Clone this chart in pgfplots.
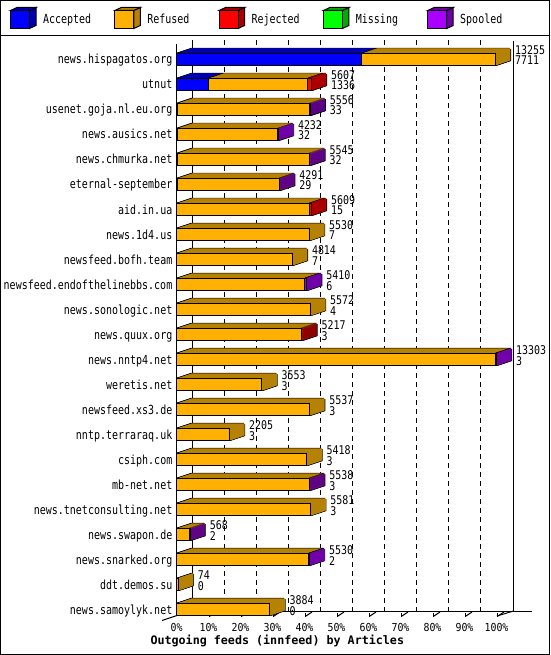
\documentclass[border=0pt]{standalone}
\usepackage{pgfplots}
\pgfplotsset{compat=1.18}
\usepackage{pgfplotstable}
\usepackage{fontspec}
\setmainfont{DejaVu Sans Mono}
\newfontfamily\monoc[FakeStretch=0.8]{DejaVu Sans Mono}
\newfontfamily\monon[FakeStretch=0.83]{DejaVu Sans Mono}
\newfontfamily\monot[FakeStretch=0.9]{DejaVu Sans Mono}
\newfontfamily\monob{DejaVu Sans Mono}
\newcommand\labf{\monoc\fontsize{12.5pt}{11pt}\selectfont}
\newcommand\numf{\monon\fontsize{12pt}{11pt}\selectfont}
\newcommand\tickf{\monot\fontsize{11pt}{12pt}\selectfont}
\newcommand\titf{\monob\bfseries\fontsize{11.7pt}{13pt}\selectfont}

\definecolor{cAcc}{RGB}{0,0,255}   \definecolor{cAccD}{RGB}{0,0,176}
\definecolor{cRef}{RGB}{255,176,0} \definecolor{cRefD}{RGB}{182,130,6}
\definecolor{cRej}{RGB}{255,0,0}   \definecolor{cRejD}{RGB}{172,0,0}
\definecolor{cMis}{RGB}{0,255,0}   \definecolor{cMisD}{RGB}{0,172,0}
\definecolor{cSpo}{RGB}{170,0,255} \definecolor{cSpoD}{RGB}{112,0,168}

\newcount\extk
\tikzset{
  extrude/.code={%
    \extk=15\relax
    \loop
      \pgfmathsetmacro\exA{\the\extk-0.7}%
      \pgfmathsetmacro\eyA{\the\extk/3+0.7}%
      \pgfmathsetmacro\exB{\the\extk+0.7}%
      \pgfmathsetmacro\eyB{\the\extk/3-0.7}%
      \edef\tmp{\noexpand\tikzset{preaction={fill=black,draw=none,transform canvas={shift={(\exA pt,\eyA pt)}}},preaction={fill=black,draw=none,transform canvas={shift={(\exB pt,\eyB pt)}}}}}%
      \tmp
      \advance\extk by -1\relax
    \ifnum\extk>0 \repeat
    \extk=30\relax
    \loop
      \pgfmathsetmacro\exC{\the\extk/2}%
      \pgfmathsetmacro\eyC{\the\extk/6}%
      \edef\tmp{\noexpand\tikzset{preaction={fill=#1,draw=none,transform canvas={shift={(\exC pt,\eyC pt)}}}}}%
      \tmp
      \advance\extk by -1\relax
    \ifnum\extk>0 \repeat
  }
}

\pgfplotstableread{
idx acc ref rej mis spo off
0 7711 5544 0 0 0 13255
1 1336 4121 150 0 0 5607
2 33 5498 0 0 25 5556
3 32 4175 0 0 25 4232
4 32 5488 0 0 25 5545
5 29 4237 0 0 25 4291
6 15 5494 100 0 0 5609
7 7 5523 0 0 0 5530
8 7 4807 0 0 0 4814
9 6 5314 0 0 90 5410
10 4 5568 0 0 0 5572
11 3 5189 25 0 0 5217
12 3 13250 0 0 50 13303
13 3 3550 0 0 0 3553
14 3 5534 0 0 0 5537
15 3 2202 0 0 0 2205
16 3 5415 0 0 0 5418
17 3 5510 0 0 25 5538
18 3 5578 0 0 0 5581
19 2 541 0 0 25 568
20 2 5493 0 0 35 5530
21 0 74 0 0 0 74
22 0 3884 0 0 0 3884
}\feeds

\pgfplotsset{
  feedaxis/.style={
    at={(176.5pt,38.5pt)}, anchor=south west,
    scale only axis, width=320pt, height=571pt,
    xmin=0, xmax=13303, ymin=-0.56, ymax=22.28, y dir=reverse,
    clip=false, scaled x ticks=false, scaled y ticks=false,
    axis line style={draw=none}, major tick length=0pt, tick style={draw=none},
  }
}

\begin{document}
\begin{tikzpicture}
\useasboundingbox (0,0) rectangle (550pt,655pt);
\begin{scope}[x=1pt,y=-1pt,yshift=655pt,line width=1pt]
  % outer frame and legend separator
  \draw (0.5,0.5) rectangle (549.5,654.5);
  \draw (0,35.5) -- (550,35.5);
  % legend
  \foreach \i/\cf/\cd/\t in {0/cAcc/cAccD/Accepted,1/cRef/cRefD/Refused,2/cRej/cRejD/Rejected,3/cMis/cMisD/Missing,4/cSpo/cSpoD/Spooled}{
    \pgfmathsetmacro\lx{10.5+104.3*\i}
    \filldraw[fill=\cd] (\lx+19,10.5) -- (\lx+25.5,7.5) -- (\lx+25.5,25.5) -- (\lx+19,28.5) -- cycle;
    \filldraw[fill=\cd] (\lx,10.5) -- (\lx+6.5,7.5) -- (\lx+25.5,7.5) -- (\lx+19,10.5) -- cycle;
    \filldraw[fill=\cf] (\lx,10.5) rectangle (\lx+19,28.5);
    \node[anchor=base west,inner sep=0pt,font=\labf] at (\lx+32,24) {\t};
  }
  % back wall grid
  \foreach \i in {1,...,9}{
    \draw[dash pattern=on 5pt off 4pt] ({192.5+32*\i},40) -- ({192.5+32*\i},611);
  }
  \draw (192.5,40) -- (192.5,611.5);
  \draw (176.5,44) -- (176.5,616.5);
  \draw (513.5,41) -- (513.5,611.5);
  \draw (192,611.5) -- (532,611.5);
  \draw (162,620.5) -- (177,615.5);
  \draw (497,616) -- (513.5,611);
  \foreach \i in {1,...,10}{
    \draw ({177.5+32*\i},613) -- ({177.5+32*\i},617);
    \draw ({178+32*\i},616) -- ({184+32*\i},612);
  }
  % title
  \node[anchor=base west,inner sep=0pt,font=\titf] at (150,645) {Outgoing feeds (innfeed) by Articles};
\end{scope}

\begin{axis}[
  feedaxis,
  xbar stacked, reverse stacked plots=false, bar width=12pt,
  xtick={0,1330.3,2660.6,3990.9,5321.2,6651.5,7981.8,9312.1,10642.4,11972.7,13303},
  xticklabels={0\%,10\%,20\%,30\%,40\%,50\%,60\%,70\%,80\%,90\%,100\%},
  xticklabel style={font=\tickf, anchor=base, inner sep=0pt, yshift=-14.5pt},
  ytick={0,...,22},
  yticklabels={news.hispagatos.org,utnut,usenet.goja.nl.eu.org,news.ausics.net,news.chmurka.net,eternal-september,aid.in.ua,news.1d4.us,newsfeed.bofh.team,newsfeed.endofthelinebbs.com,news.sonologic.net,news.quux.org,news.nntp4.net,weretis.net,newsfeed.xs3.de,nntp.terraraq.uk,csiph.com,mb-net.net,news.tnetconsulting.net,news.swapon.de,news.snarked.org,ddt.demos.su,news.samoylyk.net},
  yticklabel style={font=\labf, anchor=base east, inner sep=0pt, xshift=-4pt, yshift=-4.5pt},
]
\addplot[extrude=cAccD, fill=cAcc, draw=black, line width=1pt] table[x=acc,y=idx]{\feeds};
\addplot[extrude=cRefD, fill=cRef, draw=black, line width=1pt] table[x=ref,y=idx]{\feeds};
\addplot[extrude=cRejD, fill=cRej, draw=black, line width=1pt] table[x=rej,y=idx]{\feeds};
\addplot[extrude=cMisD, fill=cMis, draw=black, line width=1pt] table[x=mis,y=idx]{\feeds};
\addplot[extrude=cSpoD, fill=cSpo, draw=black, line width=1pt] table[x=spo,y=idx]{\feeds};
\end{axis}

\begin{axis}[
  feedaxis, xtick=\empty, ytick=\empty,
]
\addplot[only marks, mark=*, mark size=0pt, mark options={draw=none,fill=none},
  point meta=explicit symbolic, nodes near coords,
  every node near coord/.append style={anchor=base west, inner sep=0pt, text height=8.5pt, text depth=0pt, xshift=19.5pt, yshift=5pt, font=\numf, text=black}]
  table[x=off,y=idx,meta=off]{\feeds};
\addplot[only marks, mark=*, mark size=0pt, mark options={draw=none,fill=none},
  point meta=explicit symbolic, nodes near coords,
  every node near coord/.append style={anchor=base west, inner sep=0pt, text height=8.5pt, text depth=0pt, xshift=19.5pt, yshift=-5.5pt, font=\numf, text=black}]
  table[x=off,y=idx,meta=acc]{\feeds};
\end{axis}
\end{tikzpicture}
\end{document}
